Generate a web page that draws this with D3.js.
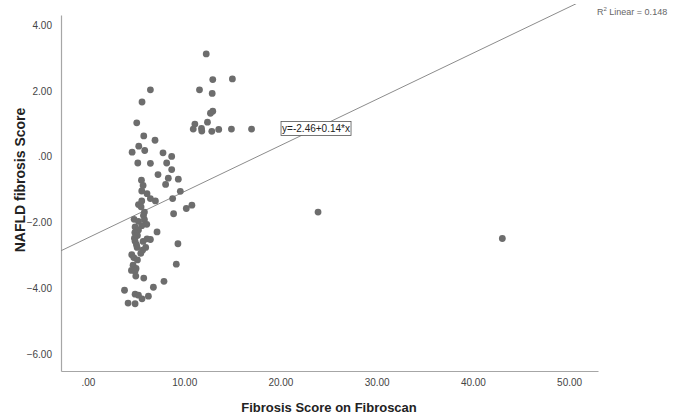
<!DOCTYPE html>
<html>
<head>
<meta charset="utf-8">
<script src="https://cdn.jsdelivr.net/npm/d3@7"></script>
<style>
  body { margin: 0; background: #fff; }
  text { font-family: "Liberation Sans", Arial, sans-serif; }
</style>
</head>
<body>
<script>
// Fibroscan score (x) vs NAFLD fibrosis score (y)
var fibroscan = [12.29, 12.97, 15.01, 11.59, 12.91, 6.49, 5.62, 12.97, 12.73, 12.42,
  11.11, 10.94, 11.80, 11.83, 12.87, 13.59, 14.91, 17.0, 5.07, 5.80,
  6.97, 5.28, 4.59, 5.90, 7.80, 8.70, 5.18, 6.49, 8.18, 8.70,
  7.28, 5.56, 8.35, 9.39, 5.73, 8.07, 5.59, 6.14, 9.60, 6.49,
  7.01, 8.80, 5.25, 5.59, 5.52, 10.22, 10.80, 5.87, 8.90, 5.77,
  4.80, 5.25, 5.87, 6.11, 5.59, 4.90, 5.25, 4.87, 7.18, 5.14,
  4.83, 6.14, 6.49, 5.73, 4.90, 9.35, 5.04, 5.11, 6.00, 5.69,
  5.49, 4.55, 4.76, 5.14, 9.18, 4.69, 5.00, 4.52, 4.90, 4.97,
  5.80, 7.90, 6.80, 3.80, 4.90, 5.25, 5.62, 6.28, 4.17, 4.90,
  23.91, 43.06];
var naflds = [3.12, 2.34, 2.36, 2.03, 1.92, 2.03, 1.66, 1.38, 1.32, 1.05,
  0.99, 0.84, 0.86, 0.78, 0.77, 0.83, 0.84, 0.84, 1.03, 0.63,
  0.50, 0.32, 0.14, 0.19, 0.12, 0.01, -0.19, -0.20, -0.19, -0.39,
  -0.54, -0.71, -0.65, -0.68, -0.87, -0.84, -1.04, -1.12, -1.05, -1.27,
  -1.34, -1.27, -1.45, -1.34, -1.52, -1.57, -1.47, -1.68, -1.73, -1.78,
  -1.90, -1.96, -1.91, -2.05, -2.09, -2.13, -2.22, -2.30, -2.28, -2.39,
  -2.47, -2.49, -2.51, -2.57, -2.56, -2.64, -2.67, -2.75, -2.75, -2.83,
  -2.93, -2.97, -3.06, -3.13, -3.26, -3.29, -3.39, -3.45, -3.47, -3.62,
  -3.68, -3.78, -3.96, -4.05, -4.17, -4.20, -4.31, -4.23, -4.44, -4.46,
  -1.68, -2.48];

var xTicks = [0, 10, 20, 30, 40, 50];
var yTicks = [4, 2, 0, -2, -4, -6];

// fit line: y = intercept + slope * x
var intercept = -2.46;
var slope = 0.14;
var rSquared = 0.148;

var svgWidth = 681;
var svgHeight = 417;

var svg = d3.select("body")
    .append("svg")
    .attr("width", svgWidth)
    .attr("height", svgHeight);

var plot = { left: 61, right: 598, top: 15, bottom: 371 };

var xScale = d3.scaleLinear()
    .domain([-2.8, 53.0])
    .range([plot.left, plot.right]);

var yScale = d3.scaleLinear()
    .domain([-6.5, 4.3])
    .range([plot.bottom, plot.top]);

// SPSS style labels: ".00", "10.00", "-2.00"
var fmt = function (d) {
    return d3.format(".2f")(d).replace(/^0\./, ".").replace(/^-0\./, "-.");
};

var bottomAxis = d3.axisBottom(xScale).tickValues(xTicks).tickSize(0).tickPadding(8).tickFormat(fmt);
var leftAxis = d3.axisLeft(yScale).tickValues(yTicks).tickSize(0).tickPadding(9).tickFormat(fmt);

var gx = svg.append("g")
    .attr("transform", `translate(0, ${plot.bottom})`)
    .call(bottomAxis);

var gy = svg.append("g")
    .attr("transform", `translate(${plot.left}, 0)`)
    .call(leftAxis);

[gx, gy].forEach(function (g) {
    g.select(".domain").attr("stroke", "#a6a6a6").attr("stroke-width", 1.2);
    g.selectAll("text")
        .attr("fill", "#444")
        .style("font-size", "10px")
        .style("font-family", "'Liberation Sans', Arial, sans-serif");
});

// clip for the fit line
svg.append("clipPath")
    .attr("id", "clip")
    .append("rect")
    .attr("x", plot.left)
    .attr("y", 4)
    .attr("width", plot.right - plot.left)
    .attr("height", plot.bottom - 4);

var xDom = xScale.domain();
svg.append("line")
    .attr("clip-path", "url(#clip)")
    .attr("x1", xScale(xDom[0]))
    .attr("y1", yScale(intercept + slope * xDom[0]))
    .attr("x2", xScale(xDom[1]))
    .attr("y2", yScale(intercept + slope * xDom[1]))
    .attr("stroke", "#8c8c8c")
    .attr("stroke-width", 1);

// points
var points = fibroscan.map(function (d, i) { return { x: d, y: naflds[i] }; });

svg.append("g")
    .selectAll("circle")
    .data(points)
    .enter()
    .append("circle")
    .attr("cx", d => xScale(d.x))
    .attr("cy", d => yScale(d.y))
    .attr("r", 3.4)
    .attr("fill", "#6d6d6d");

// equation box on the line
var eqX = 23.7;
var eqLabel = svg.append("g")
    .attr("transform", `translate(${xScale(eqX)}, ${yScale(intercept + slope * eqX)})`);

eqLabel.append("rect")
    .attr("x", -35)
    .attr("y", -7)
    .attr("width", 70)
    .attr("height", 14)
    .attr("fill", "#fff")
    .attr("stroke", "#555")
    .attr("stroke-width", 0.8);

eqLabel.append("text")
    .attr("x", 0)
    .attr("y", 3.5)
    .attr("text-anchor", "middle")
    .style("font-size", "10px")
    .attr("fill", "#222")
    .text(`y=${intercept.toFixed(2)}+${slope.toFixed(2)}*x`);

// R squared note
var r2 = svg.append("text")
    .attr("x", 597)
    .attr("y", 15)
    .style("font-size", "9px")
    .attr("fill", "#666");
r2.append("tspan").text("R");
r2.append("tspan").attr("dy", -4).style("font-size", "6px").text("2");
r2.append("tspan").attr("dy", 4).text(` Linear = ${rSquared.toFixed(3)}`);

// axis titles
svg.append("text")
    .attr("x", 329)
    .attr("y", 412)
    .attr("text-anchor", "middle")
    .style("font-size", "13px")
    .style("font-weight", "bold")
    .attr("fill", "#222")
    .text("Fibrosis Score on Fibroscan");

svg.append("text")
    .attr("transform", "rotate(-90)")
    .attr("x", -180)
    .attr("y", 25)
    .attr("text-anchor", "middle")
    .style("font-size", "14px")
    .style("font-weight", "bold")
    .attr("fill", "#222")
    .text("NAFLD fibrosis Score");
</script>
</body>
</html>
